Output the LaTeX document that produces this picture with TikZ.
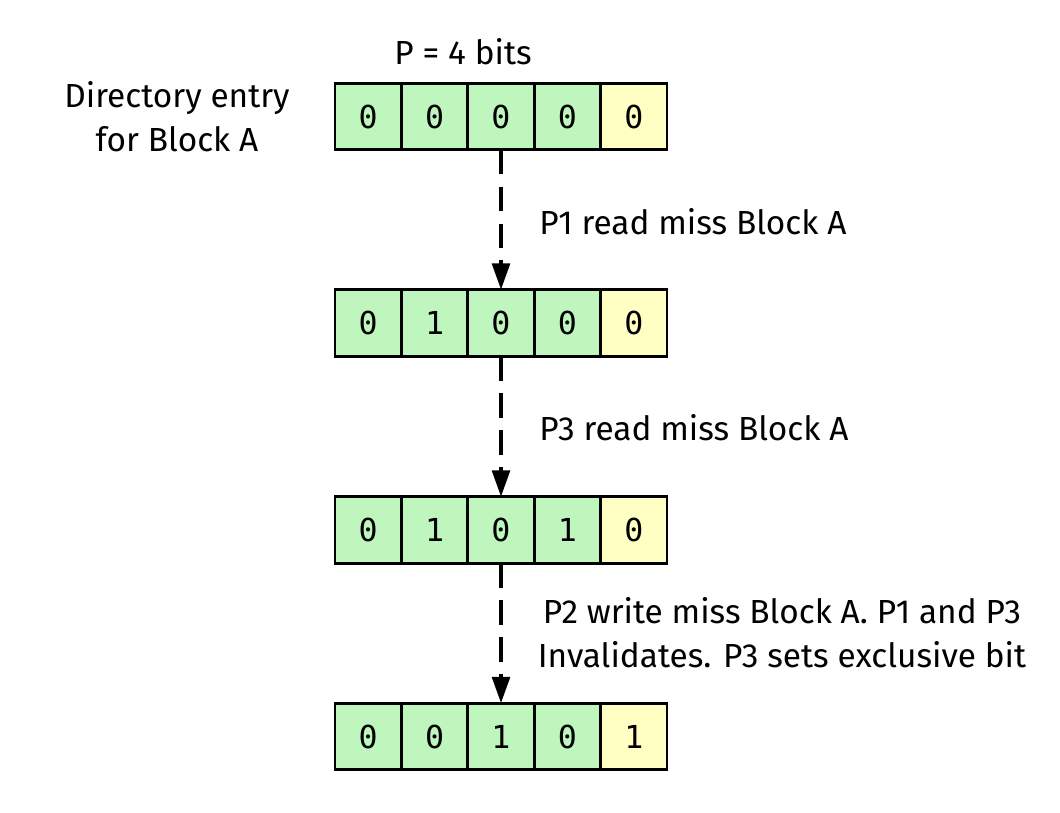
\documentclass[tikz,border=0pt]{standalone}
\usepackage{fontspec}
\setmainfont{Fira Sans}
\newfontfamily\bitfont{DejaVu Sans Mono}
\usepackage{xcolor}
\definecolor{bitgreen}{RGB}{190,246,190}
\definecolor{bityellow}{RGB}{255,255,196}
\usetikzlibrary{arrows.meta, positioning}

\begin{document}
\begin{tikzpicture}[x=0.02cm, y=-0.02cm,
  bitcell/.style={rectangle, draw=black, line width=1.6pt, fill=bitgreen,
                  minimum width=1.328cm, minimum height=1.33cm,
                  inner sep=0pt, outer sep=0pt,
                  font=\bitfont\fontsize{18}{22}\selectfont},
  excl/.style={bitcell, fill=bityellow},
  lbl/.style={font=\fontsize{19}{25}\selectfont, align=center, inner sep=0pt},
  arr/.style={-{Triangle[length=15pt, width=10pt]}, line width=2.2pt,
              dash pattern=on 14pt off 7pt}
]
\useasboundingbox (0,0) rectangle (1060,812);

% Row 1: empty entry
\foreach \b [count=\i] in {0,0,0,0}
  \node[bitcell] (a\i) at ({301.8+66.4*\i},116.5) {\b};
\node[excl] (a5) at (633.8,116.5) {0};

% Row 2: after P1 read miss
\foreach \b [count=\i] in {0,1,0,0}
  \node[bitcell] (b\i) at ({301.8+66.4*\i},323) {\b};
\node[excl] (b5) at (633.8,323) {0};

% Row 3: after P3 read miss
\foreach \b [count=\i] in {0,1,0,1}
  \node[bitcell] (c\i) at ({301.8+66.4*\i},530) {\b};
\node[excl] (c5) at (633.8,530) {0};

% Row 4: after P2 write miss
\foreach \b [count=\i] in {0,0,1,0}
  \node[bitcell] (d\i) at ({301.8+66.4*\i},736.5) {\b};
\node[excl] (d5) at (633.8,736.5) {1};

% Arrows between rows
\draw[arr] (a3.south) -- (b3.north);
\draw[arr] (b3.south) -- (c3.north);
\draw[arr] (c3.south) -- (d3.north);

% Labels
\node[lbl] (width) at (463,52) {P = 4 bits};
\node[lbl] (entry) at (177,117) {Directory entry\\for Block A};
\node[lbl, anchor=west] (ev1) at (539,222) {P1 read miss Block A};
\node[lbl, anchor=west] (ev2) at (539,428) {P3 read miss Block A};
\node[lbl] (ev3) at (782,633) {P2 write miss Block A. P1 and P3\\Invalidates. P3 sets exclusive bit};
\end{tikzpicture}
\end{document}
